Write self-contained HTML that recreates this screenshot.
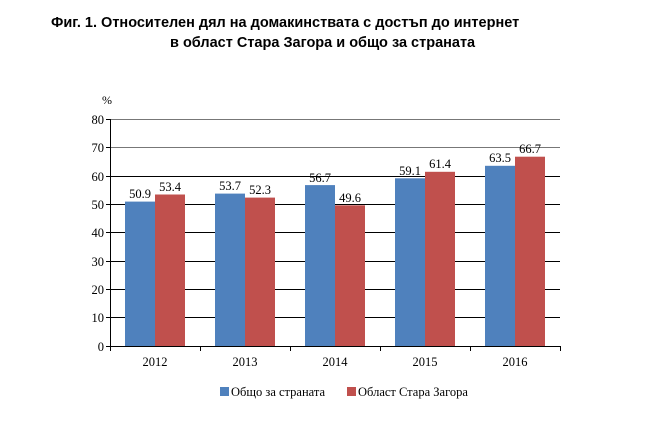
<!DOCTYPE html>
<html><head><meta charset="utf-8"><style>
body{margin:0;background:#fff;width:660px;height:420px;overflow:hidden}
</style></head><body>
<svg width="660" height="420" xmlns="http://www.w3.org/2000/svg">
<text x="51" y="27" font-family="Liberation Sans, sans-serif" font-weight="bold" font-size="14.5">Фиг. 1. Относителен дял на домакинствата с достъп до интернет</text>
<text x="170" y="47" font-family="Liberation Sans, sans-serif" font-weight="bold" font-size="14.5">в област Стара Загора и общо за страната</text>
<g stroke="#000" stroke-width="1">
<line x1="110" y1="119.5" x2="560" y2="119.5" stroke="#777"/>
<line x1="110" y1="147.5" x2="560" y2="147.5" stroke="#777"/>
<line x1="110" y1="176.5" x2="560" y2="176.5"/>
<line x1="110" y1="204.5" x2="560" y2="204.5"/>
<line x1="110" y1="232.5" x2="560" y2="232.5"/>
<line x1="110" y1="261.5" x2="560" y2="261.5"/>
<line x1="110" y1="289.5" x2="560" y2="289.5"/>
<line x1="110" y1="317.5" x2="560" y2="317.5"/>
</g>
<g id="bars">
<rect x="125" y="201.6" width="30" height="144.4" fill="#4f81bd"/>
<rect x="155" y="194.5" width="30" height="151.5" fill="#c0504d"/>
<rect x="215" y="193.6" width="30" height="152.4" fill="#4f81bd"/>
<rect x="245" y="197.6" width="30" height="148.4" fill="#c0504d"/>
<rect x="305" y="185.1" width="30" height="160.9" fill="#4f81bd"/>
<rect x="335" y="205.3" width="30" height="140.7" fill="#c0504d"/>
<rect x="395" y="178.3" width="30" height="167.7" fill="#4f81bd"/>
<rect x="425" y="171.8" width="30" height="174.2" fill="#c0504d"/>
<rect x="485" y="165.8" width="30" height="180.2" fill="#4f81bd"/>
<rect x="515" y="156.7" width="30" height="189.3" fill="#c0504d"/>
</g>
<g stroke="#000">
<line x1="110.5" y1="119" x2="110.5" y2="351"/>
<line x1="106" y1="346.5" x2="560" y2="346.5"/>
<line x1="200.5" y1="346" x2="200.5" y2="351"/><line x1="290.5" y1="346" x2="290.5" y2="351"/>
<line x1="380.5" y1="346" x2="380.5" y2="351"/><line x1="470.5" y1="346" x2="470.5" y2="351"/>
<line x1="560.5" y1="346" x2="560.5" y2="351"/>
<line x1="106" y1="119.5" x2="110" y2="119.5"/><line x1="106" y1="147.5" x2="110" y2="147.5"/>
<line x1="106" y1="176.5" x2="110" y2="176.5"/><line x1="106" y1="204.5" x2="110" y2="204.5"/>
<line x1="106" y1="232.5" x2="110" y2="232.5"/><line x1="106" y1="261.5" x2="110" y2="261.5"/>
<line x1="106" y1="289.5" x2="110" y2="289.5"/><line x1="106" y1="317.5" x2="110" y2="317.5"/>
</g>
<g font-family="Liberation Serif, serif" font-size="12.5" text-anchor="end">
<text x="104" y="124">80</text><text x="104" y="152">70</text><text x="104" y="181">60</text>
<text x="104" y="209">50</text><text x="104" y="237">40</text><text x="104" y="266">30</text>
<text x="104" y="294">20</text><text x="104" y="322">10</text><text x="104" y="351">0</text>
</g>
<text x="102" y="104" font-family="Liberation Serif, serif" font-size="12">%</text>
<g font-family="Liberation Serif, serif" font-size="12.5" text-anchor="middle">
<text x="155" y="366">2012</text><text x="245" y="366">2013</text><text x="335" y="366">2014</text>
<text x="425" y="366">2015</text><text x="515" y="366">2016</text>
<text x="140" y="198">50.9</text><text x="170" y="191">53.4</text>
<text x="230" y="190">53.7</text><text x="260" y="194">52.3</text>
<text x="320" y="182">56.7</text><text x="350" y="202">49.6</text>
<text x="410" y="175">59.1</text><text x="440" y="168">61.4</text>
<text x="500" y="162">63.5</text><text x="530" y="153">66.7</text>
</g>
<rect x="220" y="387" width="9" height="9" fill="#4f81bd"/>
<rect x="347" y="387" width="9" height="9" fill="#c0504d"/>
<g font-family="Liberation Serif, serif" font-size="12.5">
<text x="231" y="396">Общо за страната</text>
<text x="358" y="396">Област Стара Загора</text>
</g>
</svg>
</body></html>
